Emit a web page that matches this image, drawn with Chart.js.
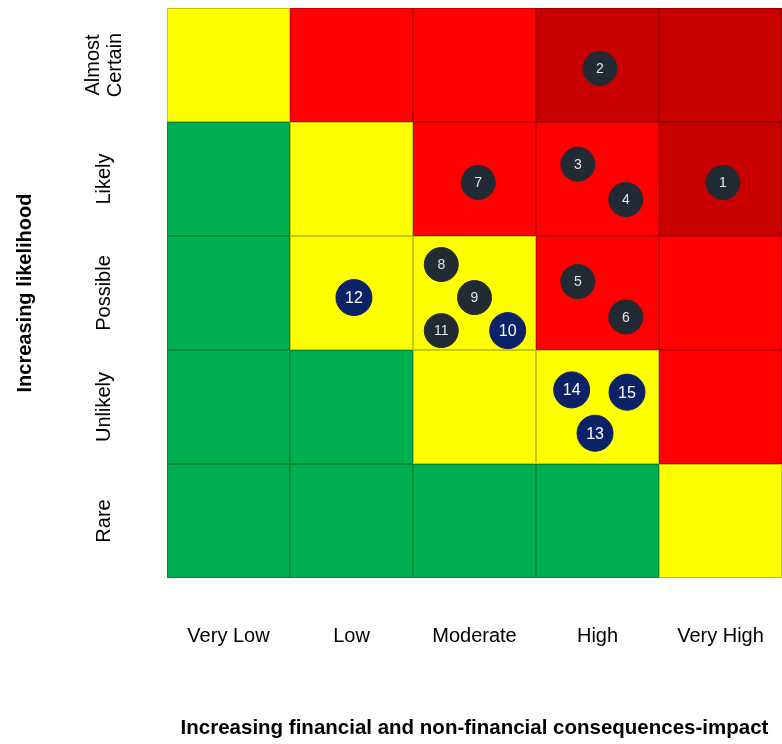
<!DOCTYPE html>
<html>
<head>
<meta charset="utf-8">
<script src="https://cdn.jsdelivr.net/npm/chart.js@4.4.0/dist/chart.umd.min.js"></script>
<style>
  html, body { margin: 0; padding: 0; background: #fff; }
  #wrap { width: 782px; height: 744px; }
</style>
</head>
<body>
<div id="wrap"><canvas id="riskChart"></canvas></div>
<script>
const impactLabels = ["Very Low", "Low", "Moderate", "High", "Very High"];
const likelihoodLabels = ["Rare", "Unlikely", "Possible", "Likely", ["Almost", "Certain"]];

// rating per cell, bottom row (Rare) first, columns Very Low -> Very High
const cellRatings = [
    ["L", "L", "L", "L", "M"],
    ["L", "L", "M", "M", "H"],
    ["L", "M", "M", "H", "H"],
    ["L", "M", "H", "H", "E"],
    ["M", "H", "H", "E", "E"]
];

const riskIds        = [1, 2, 3, 4, 5, 6, 7, 8, 9, 10, 11, 12, 13, 14, 15];
const riskImpact     = [4.52, 3.52, 3.34, 3.73, 3.34, 3.73, 2.53, 2.23, 2.50, 2.77, 2.23, 1.52, 3.48, 3.29, 3.74];
const riskLikelihood = [3.47, 4.47, 3.63, 3.32, 2.60, 2.29, 3.47, 2.75, 2.46, 2.17, 2.17, 2.46, 1.27, 1.65, 1.63];
const riskGroup      = ["a", "a", "a", "a", "a", "a", "a", "a", "a", "b", "a", "b", "b", "b", "b"];

const ratingColors = { L: "#00b050", M: "#ffff00", H: "#ff0000", E: "#c80000" };
const groupColors = { a: "#222a33", b: "#0b2266" };

const cellPlugin = {
    id: "cells",
    beforeDraw(chart) {
        const { ctx, scales: { x, y } } = chart;
        ctx.save();
        cellRatings.forEach((row, r) => {
            row.forEach((rating, c) => {
                const x0 = x.getPixelForValue(c), x1 = x.getPixelForValue(c + 1);
                const y0 = y.getPixelForValue(r + 1), y1 = y.getPixelForValue(r);
                ctx.fillStyle = ratingColors[rating];
                ctx.fillRect(x0, y0, x1 - x0, y1 - y0);
                ctx.strokeStyle = "rgba(0,0,0,0.22)";
                ctx.lineWidth = 1;
                ctx.strokeRect(x0 + 0.5, y0 + 0.5, x1 - x0 - 1, y1 - y0 - 1);
            });
        });
        ctx.restore();
    }
};

const idPlugin = {
    id: "riskIds",
    afterDatasetsDraw(chart) {
        const { ctx } = chart;
        const meta = chart.getDatasetMeta(0);
        ctx.save();
        ctx.textAlign = "center";
        ctx.textBaseline = "middle";
        meta.data.forEach((pt, i) => {
            ctx.fillStyle = riskGroup[i] === "b" ? "#ffffff" : "#e6e6e6";
            ctx.font = (riskGroup[i] === "b" ? "16px" : "14px") + " Arial, 'Liberation Sans'";
            ctx.fillText(String(riskIds[i]), pt.x, pt.y + 1);
        });
        ctx.restore();
    }
};

new Chart(document.getElementById("riskChart"), {
    type: "scatter",
    data: {
        datasets: [{
            data: riskIds.map((id, i) => ({ x: riskImpact[i], y: riskLikelihood[i] })),
            backgroundColor: riskGroup.map(g => groupColors[g]),
            borderColor: riskGroup.map(g => groupColors[g]),
            pointRadius: riskGroup.map(g => g === "b" ? 18 : 17),
            pointHoverRadius: riskGroup.map(g => g === "b" ? 18 : 17)
        }]
    },
    options: {
        responsive: true,
        maintainAspectRatio: false,
        animation: false,
        devicePixelRatio: 1,
        layout: { autoPadding: false, padding: { top: 8, right: 0, left: 0, bottom: 0 } },
        plugins: {
            legend: { display: false },
            tooltip: { enabled: false }
        },
        scales: {
            x: {
                type: "linear",
                min: 0,
                max: 5,
                afterBuildTicks: s => { s.ticks = impactLabels.map((l, i) => ({ value: i + 0.5 })); },
                afterFit: s => { s.height = 166; s.paddingLeft = 0; s.paddingRight = 0; },
                grid: { display: false, drawTicks: true, tickLength: 46 },
                border: { display: false },
                ticks: {
                    padding: 0,
                    color: "#000",
                    font: { family: "Arial, 'Liberation Sans'", size: 20 },
                    maxRotation: 0,
                    callback: v => impactLabels[Math.floor(v)]
                },
                title: {
                    display: true,
                    text: "Increasing financial and non-financial consequences-impact",
                    color: "#000",
                    font: { family: "Arial, 'Liberation Sans'", size: 20.5, weight: "bold" },
                    padding: { top: 0, bottom: 3 }
                }
            },
            y: {
                type: "linear",
                min: 0,
                max: 5,
                afterBuildTicks: s => { s.ticks = likelihoodLabels.map((l, i) => ({ value: i + 0.5 })); },
                afterFit: s => { s.width = 167; s.paddingTop = 0; s.paddingBottom = 0; },
                grid: { display: false, drawTicks: true, tickLength: 25 },
                border: { display: false },
                ticks: {
                    padding: 0,
                    color: "#000",
                    minRotation: 90,
                    maxRotation: 90,
                    crossAlign: "center",
                    font: { family: "Arial, 'Liberation Sans'", size: 20, lineHeight: 1.1 },
                    callback: v => likelihoodLabels[Math.floor(v)]
                },
                title: {
                    display: true,
                    text: "Increasing likelihood",
                    color: "#000",
                    font: { family: "Arial, 'Liberation Sans'", size: 20, weight: "bold" },
                    padding: { top: 13, bottom: 0 }
                }
            }
        }
    },
    plugins: [cellPlugin, idPlugin]
});
</script>
</body>
</html>
